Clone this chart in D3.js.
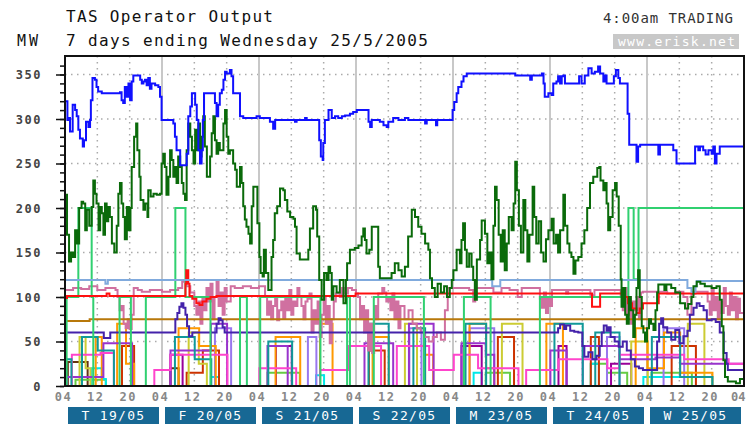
<!DOCTYPE html>
<html><head><meta charset="utf-8">
<script src="https://cdn.jsdelivr.net/npm/d3@7"></script>
<style>body{margin:0;background:#fff}svg{display:block}</style>
</head><body><svg id="c" width="747" height="425"></svg>
<script>
const titleLines = ["TAS Operator Output", "7 days ending Wednesday 25/5/2005"];
const dayLabels = ["T 19/05","F 20/05","S 21/05","S 22/05","M 23/05","T 24/05","W 25/05"];
const hourLabels = ["04","12","20"];
const yTicks = [0,50,100,150,200,250,300,350];

// [hours since 04:00 19/05, MW]
const blueMW = [[0,320],[0.6,299],[1.07,301],[1.24,286],[1.9,316],[2.5,310],[2.9,303],[3.3,288],[3.7,278],[4.4,269],[4.7,276],[5.2,297],[5.8,291],[6.2,299],[6.4,321],[6.8,346],[7.4,344],[7.8,336],[8.2,331],[9.1,329],[13.6,330],[14.0,321],[14.4,318],[14.8,336],[15.3,325],[15.7,340],[16.1,321],[16.5,342],[16.9,349],[18.1,349],[18.6,344],[19.0,340],[19.4,342],[19.8,344],[20.2,338],[20.6,346],[21.0,334],[21.4,340],[22.3,338],[23.1,336],[23.5,325],[23.9,299],[26.0,299],[26.8,295],[27.2,280],[27.6,265],[28.5,248],[29.7,248],[30.1,261],[30.5,303],[31.0,314],[31.4,329],[31.8,329],[32.2,316],[32.6,299],[33.0,265],[33.4,250],[33.8,265],[34.1,299],[34.4,329],[36.7,329],[37.1,318],[37.5,303],[37.9,316],[38.3,329],[38.8,333],[39.2,344],[39.6,353],[40.0,351],[40.8,355],[41.2,348],[41.6,329],[42.9,329],[43.3,303],[44.1,301],[46.6,301],[47.4,303],[48.2,301],[50.7,297],[51.5,289],[52.0,299],[56.5,299],[56.9,297],[57.3,299],[59.4,301],[59.8,299],[62.7,299],[62.9,276],[63.3,258],[63.75,254],[63.9,273],[64.3,299],[65.2,310],[66.0,301],[66.8,303],[67.6,301],[68.5,303],[69.3,304],[70.5,306],[71.3,308],[72.2,310],[74.5,310],[75.1,297],[75.5,291],[75.9,299],[77.9,297],[78.8,293],[79.6,291],[80.0,297],[81.2,301],[82.5,299],[84.1,301],[84.95,299],[88.7,299],[89.1,295],[89.5,299],[91.1,299],[91.8,293],[92.1,299],[95.7,299],[95.9,310],[96.3,319],[96.9,329],[97.3,336],[98.1,342],[98.6,348],[99.4,351],[111.0,351],[111.4,349],[114.6,349],[115.1,344],[115.5,349],[118.0,351],[118.4,340],[118.7,325],[119.6,329],[120.4,327],[120.8,340],[121.6,342],[122.0,348],[122.5,340],[122.9,348],[123.3,349],[123.7,340],[126.6,340],[127.2,348],[127.8,340],[128.6,349],[129.5,357],[130.3,351],[131.1,353],[131.9,359],[132.4,351],[133.2,342],[133.6,349],[134.0,340],[135.2,340],[135.8,348],[136.3,355],[136.9,346],[137.3,340],[139.0,340],[139.2,306],[139.6,271],[141.0,271],[141.4,252],[141.8,269],[142.3,271],[146.4,271],[146.8,260],[147.2,271],[149.7,271],[150.5,265],[151.3,250],[155.5,250],[155.9,269],[156.7,265],[157.1,269],[157.9,265],[158.5,260],[159.2,265],[160.0,261],[160.4,269],[160.8,250],[161.2,261],[162.0,269],[168,269]];

const darkGreenMW = [[0,215],[0.5,170],[1,140],[1.5,150],[2,145],[2.5,175],[3,160],[3.5,200],[4.1,207],[4.5,205],[5,175],[5.4,198],[6,180],[6.6,201],[7,231],[7.4,216],[7.8,205],[8.3,175],[8.7,201],[9.1,194],[9.5,170],[9.9,205],[10.3,185],[10.7,201],[11.1,190],[11.6,160],[12.2,150],[12.8,180],[13.2,216],[13.6,228],[14,205],[14.4,190],[14.8,165],[15.3,201],[15.8,175],[16.2,200],[16.5,246],[17.1,280],[17.6,295],[17.9,265],[18.4,235],[18.7,209],[19.4,198],[19.8,205],[20.4,190],[20.6,220],[21.2,213],[21.9,216],[22.7,215],[23.5,216],[23.9,250],[24.3,261],[24.7,246],[25.1,215],[25.6,235],[26,265],[26.4,254],[26.8,235],[27.2,246],[27.6,228],[28,258],[28.5,246],[28.9,228],[29.3,216],[29.7,209],[30.1,265],[30.5,295],[31,280],[31.4,265],[31.8,250],[32.2,288],[32.6,265],[33,295],[33.4,258],[33.8,280],[34.2,303],[34.6,269],[35.1,235],[35.9,258],[36.3,284],[36.7,303],[37.1,276],[37.5,261],[37.9,273],[38.3,265],[39.2,295],[39.6,310],[40,280],[40.4,261],[40.8,265],[41.6,250],[42.1,243],[42.5,224],[43.3,246],[43.7,228],[44.1,202],[44.5,187],[44.9,179],[45.4,171],[45.8,160],[46.2,202],[46.6,224],[47.2,224],[47.6,183],[48.1,145],[48.4,127],[48.9,123],[49.2,153],[49.7,127],[50.3,108],[50.7,108],[51.1,145],[51.5,164],[51.9,194],[52.5,202],[53.2,222],[54,220],[54.4,209],[55,196],[55.7,190],[56.5,188],[56.9,179],[57.3,149],[58.1,142],[59.4,142],[60.2,153],[60.6,177],[61.4,202],[62.1,198],[62.4,168],[62.9,119],[63.5,97],[64.1,127],[64.7,119],[65.2,134],[65.6,127],[66,97],[66.4,112],[67.2,105],[68,119],[68.9,93],[69.5,119],[69.8,138],[70.5,153],[71.7,155],[72.6,158],[73.4,168],[73.8,177],[74.2,164],[74.6,149],[75.3,153],[75.9,179],[77.1,179],[77.5,134],[77.9,121],[80,121],[80.8,127],[81.6,138],[82.5,130],[83.3,123],[84.1,134],[84.9,168],[85.8,198],[86.6,190],[87.4,179],[88.2,171],[89.1,160],[89.9,153],[90.3,121],[90.8,110],[91.5,100],[92.2,115],[93,105],[93.8,112],[94.5,100],[95.2,110],[95.7,119],[96.1,130],[96.9,153],[97.7,138],[98.1,164],[98.5,183],[98.96,153],[99.4,134],[100,149],[100.6,134],[101,119],[101.4,97],[101.9,142],[102.3,142],[102.7,164],[103.1,186],[103.9,171],[104.5,138],[105,150],[105.5,120],[106,180],[106.4,224],[106.8,209],[107.3,170],[107.8,140],[108.3,175],[108.8,130],[109.3,160],[109.8,190],[110.5,175],[111,205],[111.4,252],[111.8,220],[112.3,180],[112.8,150],[113.4,209],[113.9,175],[114.4,140],[114.9,170],[115.7,224],[116.1,190],[116.6,160],[117.2,185],[117.8,150],[118.4,140],[119,165],[119.6,175],[120.4,188],[120.9,160],[121.5,170],[122,150],[122.5,175],[123.3,215],[123.7,180],[124.3,160],[124.8,150],[125.3,145],[125.8,126],[126.3,141],[127,145],[127.8,160],[128.5,175],[129.2,200],[129.9,228],[130.7,235],[131.7,245],[132.2,246],[132.5,231],[133.2,220],[133.6,228],[134,205],[134.4,175],[134.9,190],[135.5,220],[136.1,228],[136.5,213],[137,180],[137.5,120],[137.7,89],[138.2,110],[138.6,80],[139,70],[139.5,100],[140,85],[140.6,55],[141,80],[141.4,110],[141.8,130],[142.2,100],[142.7,67],[143.1,60],[143.5,50],[144,65],[144.5,75],[145,70],[145.6,63],[146.1,85],[146.5,105],[146.8,114],[148,114],[148.3,108],[148.8,114],[150,110],[151,105],[152.2,93],[153.4,87],[154.2,92],[155,100],[155.5,112],[156.3,117],[157.2,115],[158.3,112],[160,110],[161.2,112],[162,97],[162.5,67],[162.9,29],[163.3,10],[164,5],[166,3],[167,8],[168,5]];

const springGreenMW = [[0,0],[0.4,100],[3.3,200],[6.6,100],[7.0,0],[13.3,0],[13.5,100],[16.2,100],[16.3,0],[19.8,0],[20.0,100],[27.2,100],[27.3,200],[29.7,200],[29.8,100],[35.5,100],[36,0],[43,0],[43.3,100],[45,0],[48.2,0],[48.3,100],[63.1,100],[63.2,0],[69.7,0],[69.8,100],[70.5,0],[76.3,0],[76.4,100],[88.7,100],[88.8,0],[98.6,0],[98.7,100],[105.2,100],[105.3,0],[117.4,0],[117.5,100],[139.3,100],[139.4,200],[140.6,200],[140.7,120],[141.8,120],[141.9,200],[168,200]];

const lightBlueMW = [[0,119],[9.9,119],[10,115],[10.6,119],[105.6,119],[105.7,112],[107.6,112],[107.7,119],[153,119],[154,110],[155,106],[156,112],[156.3,118],[168,118]];

const redMW = [[0,99],[0.5,101],[10.2,101],[10.3,104],[11,101],[29.7,101],[29.8,115],[30.0,130],[30.5,115],[30.8,101],[31.5,98],[32.5,93],[33.3,91],[34,95],[35,98],[36,100],[37.5,101],[71.8,101],[71.9,104],[130.3,104],[130.4,89],[132.3,89],[132.4,104],[138,104],[138.5,100],[139.3,93],[140.3,87],[141.4,82],[142.2,87],[143,93],[146.8,93],[146.9,104],[168,104]];

const pinkMW = [[0,108],[2,110],[4,109],[6,112],[8,108],[10,110],[12.5,108],[13,100],[13.5,85],[14,90],[14.5,70],[15,65],[15.5,75],[16,64],[16.5,80],[17,110],[18,108],[19,106],[21,108],[24,106],[26,108],[28,110],[29,117],[30,112],[31,105],[32,90],[32.5,80],[33,95],[33.5,70],[34,100],[34.5,85],[35,110],[35.5,95],[36,115],[36.5,75],[37,100],[37.5,118],[38,90],[38.5,105],[39,80],[39.5,110],[40,95],[41,112],[42,110],[44,112],[46,110],[48,112],[49.5,100],[50,80],[50.5,95],[51,75],[51.5,90],[52,100],[52.5,74],[53,85],[53.5,95],[54,76],[54.5,100],[55,85],[55.5,108],[56,80],[56.5,95],[57,90],[57.5,110],[58,100],[58.5,90],[59,75],[59.5,95],[60,98],[60.5,104],[61,60],[61.5,85],[62,70],[62.5,95],[63,55],[63.5,80],[64,100],[64.5,70],[65,90],[65.5,48],[66,75],[66.5,95],[67,104],[68,100],[68.5,110],[69,104],[70,110],[71,108],[72,104],[72.5,100],[73,75],[73.5,90],[74,60],[74.5,85],[75,40],[75.5,70],[76,37],[76.5,90],[77,75],[77.5,104],[78.5,110],[79,105],[79.5,95],[80,100],[80.5,85],[81,104],[81.5,75],[82,95],[82.5,65],[83,90],[84,75],[85,85],[86,70],[87,65],[88,60],[89,55],[90,50],[91,55],[92,60],[93,52],[94,85],[94.7,110],[96,110],[100,108],[101,95],[101.5,110],[104,110],[106,105],[108,110],[110,108],[112,100],[113,110],[116,110],[117.5,98],[118,88],[118.5,105],[119,82],[119.5,100],[120,90],[120.5,108],[122,108],[124,104],[124.5,108],[128,108],[130,102],[131,108],[136,108],[137.5,100],[138,85],[138.5,110],[139,80],[139.5,100],[140,70],[140.5,95],[141,85],[141.5,100],[142,75],[142.5,105],[143,106],[145,106],[147,106],[149,104],[151,106],[153,100],[154,80],[155,104],[156,106],[158,106],[159,95],[159.5,80],[160,110],[160.5,85],[161,100],[161.5,75],[162,95],[162.5,82],[163,110],[163.5,90],[164,80],[164.5,105],[165,85],[165.5,100],[166,75],[166.5,98],[167,82],[168,100]];

const brownMW = [[0,73],[6,73],[6.1,75],[168,75]];

const indigoMW = [[0,60],[9.5,60],[9.6,54],[11.1,54],[11.2,60],[27,60],[27.3,75],[27.8,82],[28.3,89],[28.8,93],[29.3,88],[29.8,80],[30.2,67],[30.7,56],[31.5,60],[37,60],[37.5,70],[38,76],[38.5,74],[39,66],[39.5,60],[121.5,60],[122,65],[122.5,69],[123.5,64],[124,68],[125,62],[126,61],[127,60],[128,45],[128.5,33],[129.5,38],[130.5,30],[131.5,34],[132.3,45],[132.8,60],[133.3,68],[134,62],[134.5,66],[135,55],[136,50],[137,44],[138,50],[139,40],[140,30],[141,22],[142,20],[143,18],[146,18],[146.5,50],[147,70],[147.5,76],[148,66],[149,60],[150,52],[151,63],[152,48],[153,56],[154,62],[154.6,80],[155.5,88],[156.3,93],[157,90],[158,85],[158.8,74],[160,75],[161,72],[162,60],[163,37],[163.7,25],[164,18],[168,18]];

const tealMW = [[0,0],[0.3,30],[1.5,30],[1.6,0],[4,0],[4.2,55],[8,55],[8.1,40],[12,40],[12.1,0],[27,0],[27.2,55],[32,55],[32.1,30],[36,30],[36.2,0],[50,0],[50.3,50],[56,50],[56.2,0],[75,0],[75.1,70],[80,70],[80.1,0],[86,0],[86.2,65],[89,65],[89.1,0],[99,0],[99.1,70],[104,70],[104.2,0],[121,0],[121.1,70],[128,70],[128.1,0],[131,0],[131.2,60],[137,60],[137.2,0],[145,0],[145.2,55],[152,55],[152.2,10],[160,10],[160.2,0],[168,0]];
const orangeMW = [[0,0],[7.5,0],[7.6,55],[9,55],[9.1,0],[12.8,0],[12.9,70],[15,70],[15.1,25],[17,25],[17.1,0],[28,0],[28.1,65],[33,65],[33.2,45],[37,45],[37.3,0],[52,0],[52.1,55],[58,55],[58.2,0],[63,0],[63.1,70],[66,70],[66.2,0],[76,0],[76.1,55],[80,55],[80.1,0],[89,0],[89.1,35],[91,35],[91.1,0],[100,0],[100.1,70],[104,70],[104.2,20],[106,20],[106.2,0],[119,0],[119.1,70],[123,70],[123.2,0],[141,0],[141.2,65],[144,65],[144.1,20],[148,20],[148.2,60],[152,60],[152.2,15],[160,15],[160.2,0],[168,0]];
const yellowMW = [[0,0],[3.5,0],[3.6,55],[5,55],[5.1,20],[6.2,20],[6.3,0],[30.5,0],[30.6,60],[33,60],[33.1,25],[35,25],[35.1,0],[84,0],[84.1,70],[87,70],[87.1,0],[108,0],[108.1,70],[113,70],[113.2,0],[140,0],[140.1,50],[144,50],[144.2,0],[154,0],[154.1,70],[158,70],[158.2,0],[168,0]];
const purpleMW = [[0,0],[0.5,10],[9.4,10],[9.5,48],[16.5,48],[16.6,0],[26,0],[26.1,40],[36,40],[36.1,70],[40,70],[40.1,0],[50,0],[50.1,45],[55,45],[55.1,0],[74,0],[74.1,48],[81,48],[81.2,0],[85,0],[85.1,70],[91,70],[91.2,0],[98,0],[98.1,48],[104,48],[104.1,35],[106,35],[106.2,0],[120,0],[120.1,40],[124,40],[124.1,0],[128,0],[128.1,45],[137,45],[137.2,30],[146,30],[146.1,32],[152,32],[152.2,25],[168,25]];
const lavenderMW = [[0,0],[37,0],[37.1,65],[41,65],[41.1,0],[60,0],[60.1,55],[62,55],[62.2,0],[85,0],[85.2,65],[88,65],[88.2,0],[100,0],[100.1,65],[106,65],[106.2,0],[134,0],[134.1,55],[137,55],[137.2,0],[148,0],[148.1,65],[153,65],[153.2,0],[168,0]];
const magentaMW = [[0,0],[1.6,0],[1.7,35],[8.7,35],[8.8,37],[12,37],[12.1,0],[22,0],[22.1,18],[26,18],[26.1,35],[40,35],[40.2,0],[48,0],[48.1,20],[57,20],[57.2,0],[63,0],[63.1,18],[70,18],[70.2,45],[78,45],[78.2,0],[82,0],[82.1,45],[90,45],[90.1,18],[96,18],[96.2,35],[102,35],[102.2,20],[112,20],[112.2,0],[114,0],[114.1,18],[122,18],[122.1,30],[134,30],[134.2,20],[137,20],[137.1,35],[153,35],[153.2,30],[164,30],[164.2,25],[168,25]];
const cyanMW = [[0,0],[6.5,0],[6.6,20],[9,20],[9.1,8],[10,8],[10.1,0],[36,0],[36.1,10],[38,10],[38.1,0],[62,0],[62.1,12],[64,12],[64.1,0],[101,0],[101.1,15],[103,15],[103.1,0],[130,0],[130.1,25],[132,25],[132.1,0],[143,0],[143.1,10],[160,10],[160.1,0],[168,0]];
const orangeRedMW = [[0,0],[14,0],[14.1,45],[17,45],[17.1,0],[30,0],[30.1,15],[34,15],[34.1,40],[38,40],[38.1,0],[75,0],[75.2,40],[79,40],[79.1,0],[107,0],[107.1,55],[111,55],[111.1,0],[130,0],[130.1,55],[132,55],[132.1,0],[150,0],[150.1,45],[156,45],[156.1,0],[168,0]];
const lightGreenMW = [[0,0],[2.5,0],[2.6,7],[10,7],[10.1,0],[50,0],[50.1,15],[58,15],[58.1,0],[104,0],[104.1,15],[110,15],[110.1,0],[130,0],[130.1,25],[134,25],[134.1,15],[139,15],[139.1,0],[145,0],[145.1,15],[155,15],[155.1,0],[168,0]];
const darkMagentaMW = [[0,0],[26,0],[26.1,35],[29,35],[29.1,0],[52,0],[52.2,45],[56,45],[56.1,0],[98,0],[98.1,45],[103,45],[103.1,0],[122,0],[122.1,45],[124,45],[124.1,0],[135,0],[135.1,25],[140,25],[140.1,0],[168,0]];
const darkBrownMW = [[0,0],[0.7,27],[5.5,27],[5.6,0],[26,0],[26.1,20],[28,20],[28.1,0],[168,0]];

const seriesList = [
  [darkBrownMW,"#663311"],[lightGreenMW,"#66cc44"],[cyanMW,"#00e8e8"],[darkMagentaMW,"#990099"],
  [orangeRedMW,"#cc3300"],[lavenderMW,"#9977ee"],[yellowMW,"#cccc33"],[orangeMW,"#ff9900"],
  [purpleMW,"#9933cc"],[magentaMW,"#ff44cc"],[tealMW,"#119999"],
  [pinkMW,"#d070a0"],[brownMW,"#b8780a"],[indigoMW,"#4422aa"],[springGreenMW,"#30d070"],
  [redMW,"#ff1010"],[lightBlueMW,"#80aadd"],[darkGreenMW,"#0a6a0a"],[blueMW,"#1010ff"]
];

const svg = d3.select("#c");
const L = 65, R = 744, T = 56, B = 386;
const x = d3.scaleLinear().domain([0,168]).range([L,R]);
const y = d3.scaleLinear().domain([0,350]).range([B,74.5]);
const mono = "'DejaVu Sans Mono', monospace";

svg.append("rect").attr("width",747).attr("height",425).attr("fill","#fff");

// grid
svg.append("g").selectAll("line").data(yTicks.filter(d=>d>0)).join("line")
  .attr("x1",L).attr("x2",R).attr("y1",d=>y(d)).attr("y2",d=>y(d))
  .attr("stroke","#aaa").attr("stroke-width",1.5).attr("stroke-dasharray","1.5,4.5");
const hourTickVals = d3.range(0,169,8);
svg.append("g").selectAll("line").data(hourTickVals.filter(d=>d>0&&d<168)).join("line")
  .attr("x1",d=>x(d)).attr("x2",d=>x(d)).attr("y1",T).attr("y2",B)
  .attr("stroke",d=>d%24===0?"#c8c8c8":"#aaa")
  .attr("stroke-width",d=>d%24===0?2:1.5)
  .attr("stroke-dasharray",d=>d%24===0?null:"1.5,4.5");

// clip + series
svg.append("clipPath").attr("id","pc").append("rect").attr("x",L).attr("y",T).attr("width",R-L).attr("height",B-T);
const line = d3.line().x(d=>x(d[0])).y(d=>y(d[1])).curve(d3.curveStepAfter);
const lg = svg.append("g").attr("clip-path","url(#pc)");
seriesList.forEach(([data,col])=>{
  lg.append("path").attr("d",line(data)).attr("fill","none").attr("stroke",col).attr("stroke-width",2);
});

// frame
svg.append("rect").attr("x",L).attr("y",T).attr("width",R-L).attr("height",B-T)
  .attr("fill","none").attr("stroke","#111").attr("stroke-width",2);

// y axis
const minor = svg.append("g").attr("transform",`translate(${L-1},0)`)
  .call(d3.axisLeft(y).tickValues(d3.range(0,361,10)).tickSize(4).tickFormat(""));
minor.select(".domain").remove();
minor.selectAll("line").attr("stroke","#111").attr("stroke-width",1.5);
const major = svg.append("g").attr("transform",`translate(${L-1},0)`)
  .call(d3.axisLeft(y).tickValues(yTicks).tickSize(8).tickPadding(14));
major.select(".domain").remove();
major.selectAll("line").attr("stroke","#111").attr("stroke-width",1.5);
major.selectAll("text").attr("font-family",mono).attr("font-size",12).attr("font-weight","bold")
  .attr("fill","#444").attr("letter-spacing",1.5).attr("dy","0.35em");

// x axis labels
const xa = svg.append("g").attr("transform",`translate(-2,${B})`)
  .call(d3.axisBottom(x).tickValues(hourTickVals).tickSize(0).tickPadding(6)
    .tickFormat((d,i)=>hourLabels[i%3]));
xa.select(".domain").remove();
xa.selectAll("text").attr("font-family",mono).attr("font-size",12).attr("font-weight","bold")
  .attr("fill","#888").attr("letter-spacing",1.5);
xa.selectAll(".tick").filter(d=>d===168).select("text")
  .attr("text-anchor","end").attr("dx","3").attr("letter-spacing",0);

// day boxes
const db = svg.append("g").selectAll("g").data(dayLabels).join("g");
db.append("rect").attr("x",(d,i)=>x(i*24)+3).attr("y",407).attr("width",(d,i)=>x((i+1)*24)-x(i*24)-6).attr("height",17)
  .attr("fill","#176894");
db.append("text").attr("x",(d,i)=>(x(i*24)+x((i+1)*24))/2).attr("y",420).attr("text-anchor","middle")
  .attr("font-family",mono).attr("font-size",13).attr("fill","#fff").attr("letter-spacing",1.3).text(d=>d);

// titles
svg.append("text").attr("x",66).attr("y",22).attr("font-family",mono).attr("font-size",16).attr("fill","#111")
  .attr("textLength",207).text(titleLines[0]);
svg.append("text").attr("x",66).attr("y",46).attr("font-family",mono).attr("font-size",16).attr("fill","#111")
  .attr("textLength",362).text(titleLines[1]);
svg.append("text").attr("x",17).attr("y",46).attr("font-family",mono).attr("font-size",15).attr("fill","#111")
  .attr("textLength",21).text("MW");
svg.append("text").attr("x",603).attr("y",23).attr("font-family",mono).attr("font-size",14).attr("fill","#333")
  .attr("textLength",130).text("4:00am TRADING");
svg.append("rect").attr("x",613).attr("y",34).attr("width",126).attr("height",15).attr("fill","#c8c8c8");
svg.append("text").attr("x",618).attr("y",46).attr("font-family",mono).attr("font-size",13).attr("fill","#fff")
  .attr("textLength",117).text("www.erisk.net");
</script></body></html>
